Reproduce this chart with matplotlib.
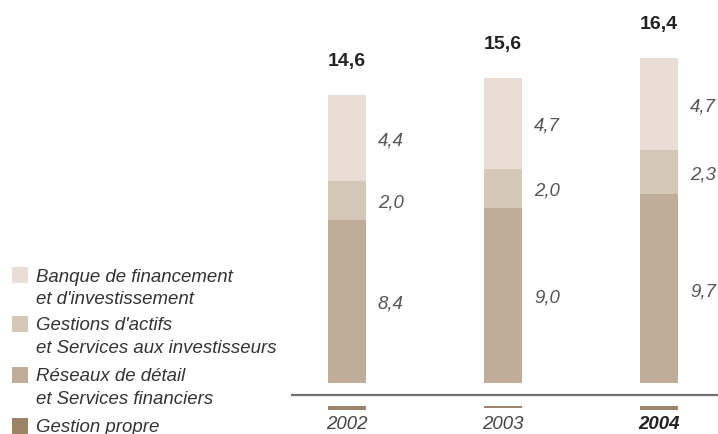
import matplotlib
matplotlib.use("Agg")
import matplotlib.pyplot as plt
from matplotlib.patches import Rectangle

years = ["2002", "2003", "2004"]
banque = [4.4, 4.7, 4.7]
gestions = [2.0, 2.0, 2.3]
reseaux = [8.4, 9.0, 9.7]
gestion_propre = [-0.2, -0.1, -0.2]
totals = ["14,6", "15,6", "16,4"]
legend_labels = ["Banque de financement\net d'investissement",
                 "Gestions d'actifs\net Services aux investisseurs",
                 "Réseaux de détail\net Services financiers",
                 "Gestion propre"]

c_banque = "#e8ded5"
c_gest = "#d5c7b8"
c_res = "#bfad99"
c_prop = "#9c8266"
colors = [c_banque, c_gest, c_res, c_prop]

plt.rcParams['font.family'] = ['Liberation Sans', 'DejaVu Sans']
W, H = 718, 434
fig = plt.figure(figsize=(W / 100, H / 100), dpi=100)
ax = fig.add_axes([0, 0, 1, 1])
ax.axis('off')

# pixel mapping: bar centers at 347, 503, 659 px; zero at 383 px from top
px_x = 156.0
px_y = 19.45
x0 = 347.0
y0 = H - 383.0
ax.set_xlim(-x0 / px_x, (W - x0) / px_x)
ax.set_ylim(-y0 / px_y, (H - y0) / px_y)

xs = list(range(len(years)))
bw = 38 / px_x
ax.bar(xs, reseaux, width=bw, color=c_res, linewidth=0)
ax.bar(xs, gestions, width=bw, bottom=reseaux, color=c_gest, linewidth=0)
b2 = [r + g for r, g in zip(reseaux, gestions)]
ax.bar(xs, banque, width=bw, bottom=b2, color=c_banque, linewidth=0)

# gestion propre below the axis line
prop_base = -22.7 / px_y
ax.bar(xs, gestion_propre, width=bw, bottom=prop_base, color=c_prop, linewidth=0)

# axis line
line_y = -11.5 / px_y
ax.plot([(291 - x0) / px_x, (W - x0) / px_x], [line_y, line_y], color="#707070",
        lw=1.6, solid_capstyle='butt')

fs = 13.4
pt = 0.72  # points per pixel at dpi 100
lab_dx = 12 / px_x + bw / 2
for i in xs:
    segs = [(0, reseaux[i]), (reseaux[i], gestions[i]), (b2[i], banque[i])]
    for bot, val in segs:
        ax.annotate(f"{val:.1f}".replace('.', ','), (i + lab_dx, bot + val / 2),
                    xytext=(0, -7.5 * pt), textcoords='offset points',
                    ha='left', va='baseline', fontsize=fs, style='italic',
                    color="#555555")
    top = b2[i] + banque[i]
    ax.annotate(totals[i], (i, top), xytext=(0, 29 * pt), textcoords='offset points',
                ha='center', va='baseline', fontsize=fs + 0.6, fontweight='bold',
                color="#222222")
    ax.text(i, (H - 429 - y0) / px_y, years[i], ha='center', va='baseline',
            fontsize=fs, style='italic', color="#222222" if i == 2 else "#444444",
            fontweight='bold' if i == 2 else 'normal')

# legend (figure pixel coordinates)
sq_centers = [275, 324, 374.5, 426]
for lab, col, cy in zip(legend_labels, colors, sq_centers):
    fig.patches.append(Rectangle((12 / W, (H - cy - 8) / H), 16 / W, 16 / H,
                                 transform=fig.transFigure, color=col, lw=0))
    lines = lab.split("\n")
    for k, ln in enumerate(lines):
        fig.text(36 / W, (H - cy - 6.5 - k * 22.5) / H, ln, ha='left', va='baseline',
                 fontsize=fs, style='italic', color="#333333")

fig.savefig("out.png", dpi=100)
